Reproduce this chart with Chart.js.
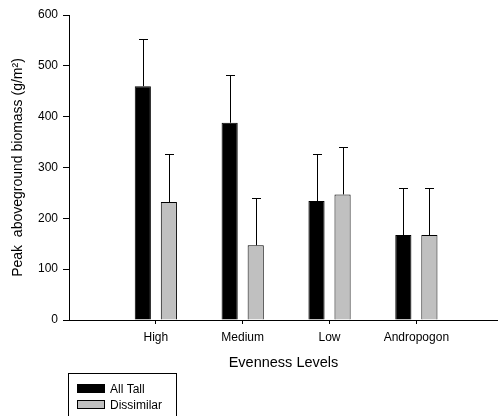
<!DOCTYPE html>
<html>
<head>
<meta charset="utf-8">
<script src="https://cdn.jsdelivr.net/npm/chart.js@4/dist/chart.umd.min.js"></script>
<style>
  html, body { margin: 0; padding: 0; background: #fff; }
  #wrap { width: 498px; height: 416px; position: relative; }
</style>
</head>
<body>
<div id="wrap"><canvas id="biomassChart"></canvas></div>
<script>
// data
var categories = ["High", "Medium", "Low", "Andropogon"];
var allTall = [460, 388, 234, 167];
var allTallErr = [93, 93, 93, 93];
var dissimilar = [232, 147, 247, 167];
var dissimilarErr = [94, 93, 93, 93];
var yTicks = [0, 100, 200, 300, 400, 500, 600];

var fontFamily = "'Liberation Sans', Arial, sans-serif";

function toPoints(values) {
    return values.map(function (v, i) {
        return { x: i + 1, y: v };
    });
}

// upward error bars with a small cap
var errorBars = {
    id: "errorBars",
    afterDatasetsDraw: function (chart) {
        var ctx = chart.ctx;
        var yScale = chart.scales.y;
        ctx.save();
        ctx.strokeStyle = "#000";
        ctx.lineWidth = 1;
        chart.data.datasets.forEach(function (ds, di) {
            var meta = chart.getDatasetMeta(di);
            meta.data.forEach(function (bar, i) {
                var top = yScale.getPixelForValue(ds.data[i].y + ds.errors[i]);
                var x = Math.round(bar.x) + 0.5;
                ctx.beginPath();
                ctx.moveTo(x, bar.y);
                ctx.lineTo(x, Math.round(top) + 0.5);
                ctx.moveTo(x - 4.5, Math.round(top) + 0.5);
                ctx.lineTo(x + 4.5, Math.round(top) + 0.5);
                ctx.stroke();
            });
        });
        ctx.restore();
    },
};

// boxed legend under the axis title
var boxLegend = {
    id: "boxLegend",
    afterDraw: function (chart) {
        var ctx = chart.ctx;
        ctx.save();
        ctx.strokeStyle = "#000";
        ctx.lineWidth = 1;
        ctx.strokeRect(68.5, 373.5, 108, 60);
        ctx.font = "12px " + fontFamily;
        ctx.textBaseline = "middle";
        ctx.fillStyle = "#000";
        chart.data.datasets.forEach(function (ds, i) {
            var y = 384 + i * 16;
            ctx.fillStyle = ds.backgroundColor;
            ctx.fillRect(77, y, 28, 9);
            ctx.strokeRect(77.5, y + 0.5, 27, 8);
            ctx.fillStyle = "#000";
            ctx.fillText(ds.label, 110, y + 5.5);
        });
        ctx.restore();
    },
};

var ctx = document.getElementById("biomassChart").getContext("2d");
var chart = new Chart(ctx, {
    type: "bar",
    data: {
        datasets: [
            {
                label: "All Tall",
                data: toPoints(allTall),
                errors: allTallErr,
                backgroundColor: "#000000",
                borderColor: "#000000",
                borderWidth: 1,
            },
            {
                label: "Dissimilar",
                data: toPoints(dissimilar),
                errors: dissimilarErr,
                backgroundColor: "#c0c0c0",
                borderColor: "#000000",
                borderWidth: 1,
            },
        ],
    },
    options: {
        responsive: true,
        maintainAspectRatio: false,
        animation: false,
        categoryPercentage: 0.6,
        barPercentage: 0.62,
        layout: {
            padding: { top: 15, right: 0, bottom: 0, left: 0 },
        },
        plugins: {
            legend: { display: false },
            tooltip: { enabled: false },
        },
        scales: {
            x: {
                type: "linear",
                min: 0,
                max: 4.94,
                offset: false,
                afterBuildTicks: function (scale) {
                    scale.ticks = categories.map(function (c, i) {
                        return { value: i + 1 };
                    });
                },
                afterFit: function (scale) {
                    scale.height = 96;
                },
                grid: {
                    display: true,
                    offset: false,
                    drawOnChartArea: false,
                    drawTicks: true,
                    tickLength: 4,
                    color: "#000",
                },
                border: { display: true, color: "#000", width: 1 },
                ticks: {
                    padding: 6,
                    color: "#000",
                    maxRotation: 0,
                    autoSkip: false,
                    font: { size: 12, family: fontFamily },
                    callback: function (value) {
                        return categories[value - 1];
                    },
                },
                title: {
                    display: true,
                    text: "Evenness Levels",
                    color: "#000",
                    padding: { top: 0, bottom: 44.6 },
                    font: { size: 14.5, family: fontFamily },
                },
            },
            y: {
                min: yTicks[0],
                max: yTicks[yTicks.length - 1],
                afterBuildTicks: function (scale) {
                    scale.ticks = yTicks.map(function (v) {
                        return { value: v };
                    });
                },
                afterFit: function (scale) {
                    scale.width = 69;
                },
                grid: {
                    display: true,
                    drawOnChartArea: false,
                    drawTicks: true,
                    tickLength: 6,
                    color: "#000",
                },
                border: { display: true, color: "#000", width: 1 },
                ticks: {
                    padding: 5,
                    color: "#000",
                    font: { size: 12, family: fontFamily },
                },
                title: {
                    display: true,
                    text: "Peak  aboveground biomass (g/m\u00b2)",
                    color: "#000",
                    padding: { top: 10, bottom: 0 },
                    font: { size: 14, family: fontFamily },
                },
            },
        },
    },
    plugins: [errorBars, boxLegend],
});
</script>
</body>
</html>
